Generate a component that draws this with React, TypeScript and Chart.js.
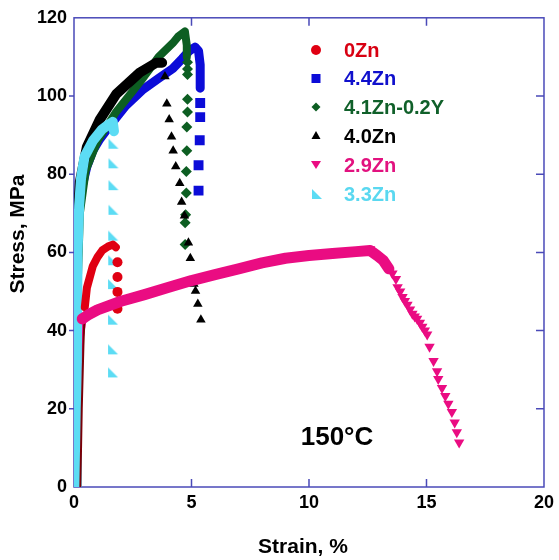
import React, { useEffect, useRef } from "react";
import { Chart, registerables } from "chart.js";

Chart.register(...registerables);

const FONT = '"Liberation Sans", Arial, Helvetica, sans-serif';

const xTickValues = [0, 5, 10, 15, 20];
const yTickValues = [0, 20, 40, 60, 80, 100, 120];
const seriesNames = ["0Zn", "4.4Zn", "4.1Zn-0.2Y", "4.0Zn", "2.9Zn", "3.3Zn"];
const annotationText = "150°C";
const xTitle = "Strain, %";
const yTitle = "Stress, MPa";

// 0Zn (red circles)
const zn0ElasticStrain = [0.27, 0.33, 0.4, 0.46];
const zn0ElasticStress = [0, 20, 36, 46];
const zn0CurveStrain = [0.46, 0.55, 0.8, 1.0, 1.2, 1.45, 1.65, 1.78];
const zn0CurveStress = [46, 51, 56.5, 58.8, 60.5, 61.5, 62, 61.3];
const zn0TailStrain = [1.85, 1.85, 1.85, 1.85];
const zn0TailStress = [57.5, 53.7, 49.9, 45.6];

// 4.4Zn (blue squares)
const zn44CurveStrain = [0, 0.02, 0.05, 0.1, 0.2, 0.35, 0.55, 0.8, 1.1, 1.6, 2.2, 2.9, 3.6, 4.2, 4.6, 4.9, 5.15, 5.3, 5.37, 5.37];
const zn44CurveStress = [0, 20, 40, 58, 70, 77, 82, 86, 89, 93, 97.5, 101.5, 104.5, 107, 109.5, 111.5, 112.5, 111.5, 108, 102];
const zn44TailStrain = [5.37, 5.37, 5.35, 5.3, 5.3];
const zn44TailStress = [98.2, 94.6, 88.7, 82.3, 75.8];

// 4.1Zn-0.2Y (green diamonds)
const zn41CurveStrain = [0.05, 0.1, 0.25, 0.5, 1.0, 1.8, 2.8, 3.6, 4.2, 4.45, 4.72, 4.8, 4.8];
const zn41CurveStress = [0, 40, 70, 81, 88.5, 96, 103.5, 110, 113.5, 115.3, 116.5, 113, 110];
const zn41TailStrain = [4.83, 4.83, 4.83, 4.83, 4.83, 4.8, 4.8, 4.78, 4.78, 4.75, 4.73, 4.73];
const zn41TailStress = [108.6, 106.9, 105.5, 99.2, 95.9, 92.1, 86, 80.7, 75.2, 69.6, 67.6, 62];

// 4.0Zn (black triangles)
const zn40CurveStrain = [0.03, 0.07, 0.13, 0.25, 0.55, 1.1, 1.8, 2.8, 3.5, 3.75];
const zn40CurveStress = [0, 40, 65, 78, 87, 94, 100.5, 106, 108.5, 108.5];
const zn40TailStrain = [3.87, 3.95, 4.05, 4.15, 4.22, 4.33, 4.5, 4.58, 4.7, 4.87, 4.95, 5.1, 5.17, 5.27, 5.4];
const zn40TailStress = [105, 98, 94, 89.6, 86, 82, 77.7, 72.9, 69.4, 62.5, 58.5, 51.9, 50.1, 46.8, 42.8];

// 2.9Zn (pink inverted triangles)
const zn29ElasticStrain = [0.02, 0.06, 0.12, 0.22, 0.35];
const zn29ElasticStress = [0, 12, 26, 38, 43];
const zn29CurveStrain = [0.35, 0.6, 1.0, 2.0, 3.0, 4.0, 5.0, 6.0, 7.0, 8.0, 9.0, 10.0, 11.0, 12.0, 12.6, 12.9, 13.15, 13.4];
const zn29CurveStress = [43, 44, 45.3, 47.5, 49.2, 51, 52.8, 54.3, 55.8, 57.3, 58.5, 59.2, 59.7, 60.2, 60.5, 59.2, 58, 55.8];
const zn29TailStrain = [12.6, 13.55, 13.7, 13.77, 13.88, 13.98, 14.08, 14.19, 14.3, 14.4, 14.5, 14.6, 14.72, 14.82, 14.93, 15.03, 15.13, 15.3, 15.45, 15.5, 15.66, 15.8, 15.93, 16.08, 16.2, 16.29, 16.39];
const zn29TailStress = [60.8, 54.6, 53.2, 51.1, 50, 48.6, 47.6, 46.6, 45.4, 44.3, 43.6, 43, 42, 41, 40, 39, 35.9, 32.2, 29.6, 27.6, 25.3, 23.3, 21.3, 19.2, 16.5, 14, 11.4];

// 3.3Zn (cyan corner triangles)
const zn33CurveStrain = [0.1, 0.12, 0.15, 0.22, 0.3, 0.45, 0.8, 1.2, 1.5, 1.65, 1.7];
const zn33CurveStress = [0, 30, 60, 72, 79, 84.5, 88.5, 91.5, 92.8, 93.4, 91];
const zn33TailStrain = [1.68, 1.68, 1.68, 1.68, 1.67, 1.67, 1.66, 1.66, 1.66, 1.66];
const zn33TailStress = [87.8, 82.8, 77.2, 70.9, 64.3, 58, 51.9, 42.8, 35.2, 29.3];

const RED = "#e00012";
const BLUE = "#0c0cd8";
const GREEN = "#0d5e22";
const BLACK = "#000000";
const PINK = "#ea0c82";
const CYAN = "#5cdcf4";
const AXIS = "#4a4ab8";

const textColors = ["#d80012", "#1010cc", "#10602a", "#000000", "#e2127f", "#5ad8f0"];

const pts = (xs: number[], ys: number[]) => xs.map((x, i) => ({ x, y: ys[i] }));

function makeCornerTri(color: string, size: number) {
  const c = document.createElement("canvas");
  c.width = size;
  c.height = size;
  const g = c.getContext("2d")!;
  g.fillStyle = color;
  g.beginPath();
  g.moveTo(1, 1);
  g.lineTo(size - 1, size - 1);
  g.lineTo(1, size - 1);
  g.closePath();
  g.fill();
  return c;
}

export default function App() {
  const ref = useRef<HTMLCanvasElement | null>(null);

  useEffect(() => {
    document.body.style.margin = "0";
    const canvas = ref.current!;
    const cornerTri = makeCornerTri(CYAN, 12);

    const line = (data: any[], color: string, width: number, order: number) => ({
      data,
      showLine: true,
      borderColor: color,
      backgroundColor: color,
      borderWidth: width,
      pointRadius: 0,
      borderJoinStyle: "round",
      borderCapStyle: "round",
      tension: 0,
      order,
    });
    const marks = (data: any[], color: string, style: any, radius: number, order: number, rotation = 0) => ({
      data,
      showLine: false,
      borderColor: color,
      backgroundColor: color,
      borderWidth: 0,
      pointStyle: style,
      pointRadius: radius,
      rotation,
      order,
    });

    const framePlugin = {
      id: "frame",
      beforeDatasetsDraw(chart: any) {
        const { ctx, chartArea: a, scales } = chart;
        const xs = scales.x;
        const ys = scales.y;
        ctx.save();
        ctx.strokeStyle = AXIS;
        ctx.lineWidth = 1.5;
        ctx.strokeRect(a.left, a.top, a.right - a.left, a.bottom - a.top);
        ctx.beginPath();
        [5, 10, 15].forEach((v) => {
          const px = xs.getPixelForValue(v);
          ctx.moveTo(px, a.bottom);
          ctx.lineTo(px, a.bottom - 8);
          ctx.moveTo(px, a.top);
          ctx.lineTo(px, a.top + 8);
        });
        [20, 40, 60, 80, 100].forEach((v) => {
          const py = ys.getPixelForValue(v);
          ctx.moveTo(a.right, py);
          ctx.lineTo(a.right - 8, py);
          ctx.moveTo(a.left, py);
          ctx.lineTo(a.left - 5, py);
        });
        ctx.stroke();
        ctx.restore();
      },
      afterDraw(chart: any) {
        const { ctx } = chart;
        ctx.save();
        ctx.fillStyle = "#000";
        ctx.textAlign = "center";
        ctx.textBaseline = "middle";
        ctx.font = `bold 21px ${FONT}`;
        ctx.fillText(xTitle, 303, 547);
        ctx.save();
        ctx.translate(18, 234);
        ctx.rotate(-Math.PI / 2);
        ctx.fillText(yTitle, 0, 0);
        ctx.restore();
        ctx.font = `bold 26px ${FONT}`;
        ctx.fillText(annotationText, 337, 438);

        // legend
        const mx = 316;
        const tx = 344;
        const rows = [50, 78.5, 107, 136, 165, 194];
        ctx.font = `bold 20px ${FONT}`;
        ctx.textAlign = "left";
        rows.forEach((y, i) => {
          ctx.fillStyle = textColors[i];
          ctx.fillText(seriesNames[i], tx, y + 1);
        });
        // markers
        ctx.fillStyle = RED;
        ctx.beginPath();
        ctx.arc(mx, rows[0], 5, 0, Math.PI * 2);
        ctx.fill();
        ctx.fillStyle = BLUE;
        ctx.fillRect(mx - 4.5, rows[1] - 4.5, 9, 9);
        ctx.fillStyle = GREEN;
        ctx.beginPath();
        ctx.moveTo(mx, rows[2] - 4.5);
        ctx.lineTo(mx + 4.5, rows[2]);
        ctx.lineTo(mx, rows[2] + 4.5);
        ctx.lineTo(mx - 4.5, rows[2]);
        ctx.closePath();
        ctx.fill();
        ctx.fillStyle = BLACK;
        ctx.beginPath();
        ctx.moveTo(mx, rows[3] - 5);
        ctx.lineTo(mx + 4.5, rows[3] + 3);
        ctx.lineTo(mx - 4.5, rows[3] + 3);
        ctx.closePath();
        ctx.fill();
        ctx.fillStyle = PINK;
        ctx.beginPath();
        ctx.moveTo(mx, rows[4] + 4);
        ctx.lineTo(mx + 5, rows[4] - 4);
        ctx.lineTo(mx - 5, rows[4] - 4);
        ctx.closePath();
        ctx.fill();
        ctx.drawImage(cornerTri, mx - 5, rows[5] - 6);
        ctx.restore();
      },
    };

    const chart = new Chart(canvas, {
      type: "scatter",
      data: {
        datasets: [
          line(pts(zn44CurveStrain, zn44CurveStress), BLUE, 9, 20),
          marks(pts(zn44TailStrain, zn44TailStress), BLUE, "rect", 7, 19),
          line(pts(zn41CurveStrain, zn41CurveStress), GREEN, 8, 18),
          marks(pts(zn41TailStrain, zn41TailStress), GREEN, "rectRot", 5.5, 17),
          line(pts(zn40CurveStrain, zn40CurveStress), BLACK, 10, 16),
          marks(pts(zn40TailStrain, zn40TailStress), BLACK, "triangle", 5.5, 15),
          line(pts(zn29ElasticStrain, zn29ElasticStress), PINK, 9, 14),
          line(pts(zn33CurveStrain, zn33CurveStress), CYAN, 10, 13),
          marks(pts(zn33TailStrain, zn33TailStress), CYAN, cornerTri, 6, 12),
          line(pts(zn0ElasticStrain, zn0ElasticStress), "#7a0008", 2, 11),
          line(pts(zn0CurveStrain, zn0CurveStress), RED, 8, 10),
          marks(pts(zn0TailStrain, zn0TailStress), RED, "circle", 5, 9),
          line(pts(zn29CurveStrain, zn29CurveStress), PINK, 11, 8),
          marks(pts(zn29TailStrain, zn29TailStress), PINK, "triangle", 6, 7, 180),
        ] as any,
      },
      options: {
        animation: false,
        responsive: false,
        devicePixelRatio: 1,
        events: [],
        layout: { padding: { left: 0, top: 13, right: 9, bottom: 0 } },
        plugins: { legend: { display: false }, tooltip: { enabled: false } },
        scales: {
          x: {
            type: "linear",
            min: 0,
            max: 20,
            afterBuildTicks: (s: any) => {
              s.ticks = xTickValues.map((v) => ({ value: v }));
            },
            afterFit: (s: any) => {
              s.height = 73;
            },
            grid: { display: false, drawTicks: false },
            border: { display: false },
            ticks: {
              color: "#000",
              padding: 5,
              maxRotation: 0,
              autoSkip: false,
              font: { family: FONT, size: 18, weight: "bold" },
            },
          },
          y: {
            type: "linear",
            min: 0,
            max: 120,
            afterBuildTicks: (s: any) => {
              s.ticks = yTickValues.map((v) => ({ value: v }));
            },
            afterFit: (s: any) => {
              s.width = 74;
            },
            grid: { display: false, drawTicks: false },
            border: { display: false },
            ticks: {
              color: "#000",
              padding: 7,
              autoSkip: false,
              font: { family: FONT, size: 18, weight: "bold" },
            },
          },
        },
      } as any,
      plugins: [framePlugin],
    });
    return () => chart.destroy();
  }, []);

  return (
    <div style={{ width: 559, height: 560, position: "relative", background: "#fff" }}>
      <canvas ref={ref} width={559} height={560} style={{ width: 559, height: 560, display: "block" }} />
    </div>
  );
}
